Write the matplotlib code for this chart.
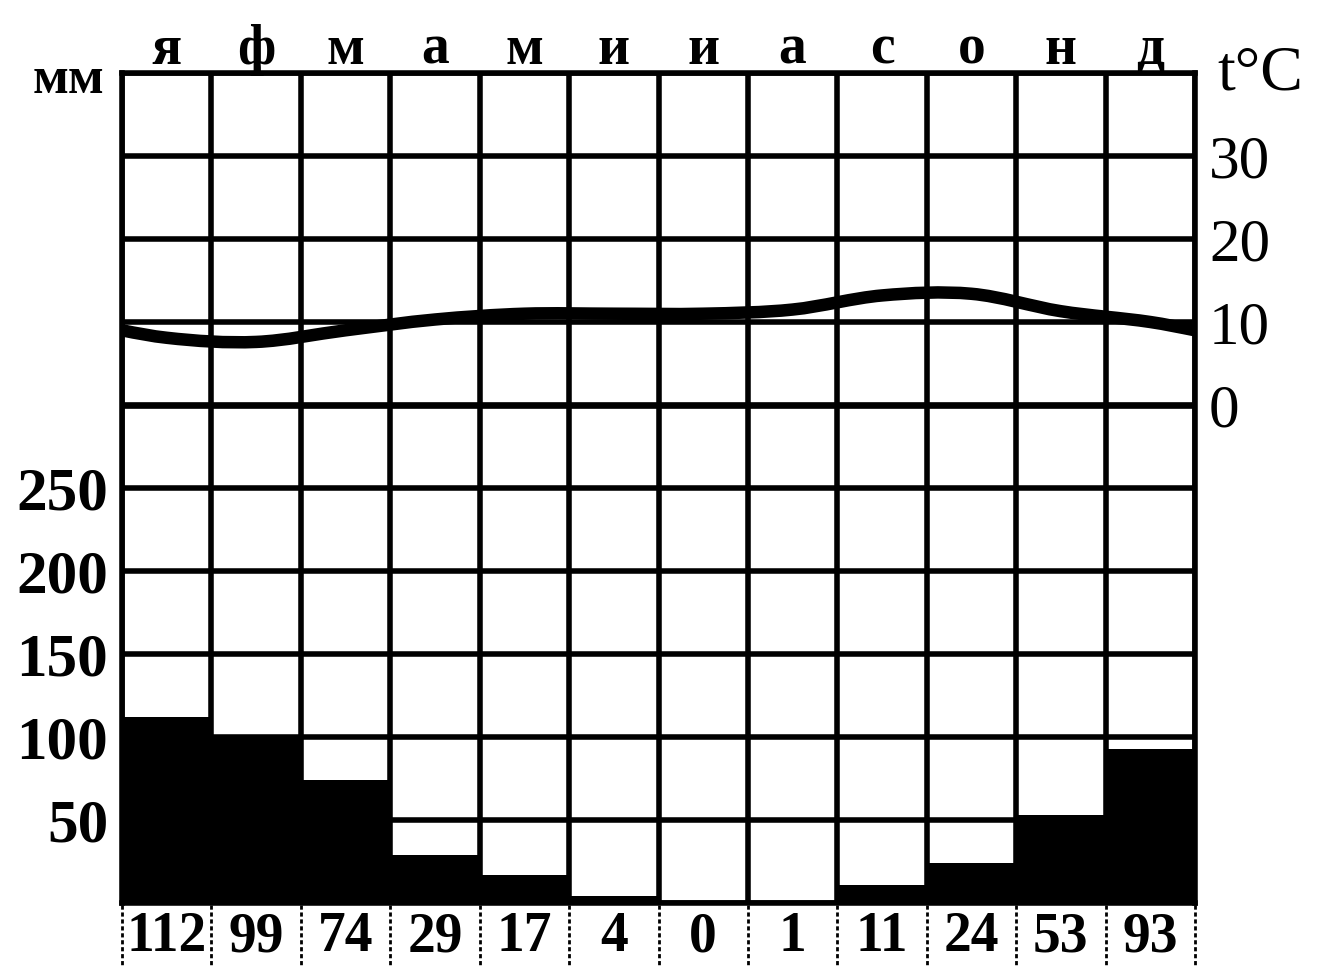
import matplotlib
matplotlib.use("Agg")
import matplotlib.pyplot as plt
import matplotlib.transforms as mtransforms
from matplotlib.path import Path
from matplotlib.patches import PathPatch

months = ["я", "ф", "м", "а", "м", "и", "и", "а", "с", "о", "н", "д"]
precip_mm = [112, 99, 74, 29, 17, 4, 0, 1, 11, 24, 53, 93]
temp_c = [8.1, 7.6, 9.0, 10.3, 11.0, 11.0, 11.0, 11.5, 13.2, 13.4, 11.3, 10.0]
precip_ticks = [50, 100, 150, 200, 250]
temp_ticks = [0, 10, 20, 30]

plt.rcParams['font.family'] = ['Liberation Serif', 'DejaVu Serif']

fig = plt.figure(figsize=(13.24, 9.69), dpi=100)
ax = fig.add_axes([122/1324, 66/969, (1195-122)/1324, (903-73)/969])
n = len(months)
ax.set_xlim(-0.5, n - 0.5)
ax.set_ylim(0, 500)

# bars
ax.bar(range(n), precip_mm, width=1.0, color='black', zorder=2)

# grid
for b in range(n + 1):
    ax.axvline(b - 0.5, color='black', lw=4.0, zorder=3)
for yv in range(0, 501, 50):
    ax.axhline(yv, color='black', lw=4.0 if yv != 300 else 4.8, zorder=3)

for s in ax.spines.values():
    s.set_linewidth(4)

ax.set_xticks(range(n))
ax.set_xticklabels([str(v) for v in precip_mm], fontsize=40, fontweight='bold')
ax.tick_params(axis='x', length=0, pad=6)
ax.set_yticks(precip_ticks)
ax.set_yticklabels([str(v) for v in precip_ticks], fontsize=44, fontweight='bold')
ax.tick_params(axis='y', length=0, pad=10)

# temperature axis
ax2 = ax.twinx()
ax2.set_ylim(-60, 40)
ax2.set_yticks(temp_ticks)
ax2.set_yticklabels([str(v) for v in temp_ticks], fontsize=44)
ax2.tick_params(axis='y', length=0, pad=10)
for s in ax2.spines.values():
    s.set_visible(False)

# periodic extension so the curve reaches both edges; smooth Bezier through monthly values
xs = [-2, -1] + list(range(n)) + [n, n + 1]
ts = [temp_c[-2], temp_c[-1]] + temp_c + [temp_c[0], temp_c[1]]
verts = [(xs[1], ts[1])]
codes = [Path.MOVETO]
for i in range(1, len(xs) - 2):
    p0 = (xs[i - 1], ts[i - 1]); p1 = (xs[i], ts[i])
    p2 = (xs[i + 1], ts[i + 1]); p3 = (xs[i + 2], ts[i + 2])
    c1 = (p1[0] + (p2[0] - p0[0]) / 6, p1[1] + (p2[1] - p0[1]) / 6)
    c2 = (p2[0] - (p3[0] - p1[0]) / 6, p2[1] - (p3[1] - p1[1]) / 6)
    verts += [c1, c2, p2]
    codes += [Path.CURVE4] * 3
ax2.add_patch(PathPatch(Path(verts, codes), facecolor='none', edgecolor='black',
                        lw=9, zorder=5, capstyle='butt'))

# month letters on top
ttop = mtransforms.blended_transform_factory(ax.transData, ax.transAxes)
for i, m in enumerate(months):
    ax.text(i, 1.0 + 9/830, m, transform=ttop, ha='center', va='baseline',
            fontsize=40, fontweight='bold')

fig.text(68/1324, 1 - 80/969, "мм", ha='center', va='center', fontsize=38, fontweight='bold')
fig.text(1260/1324, 1 - 75/969, "t°C", ha='center', va='center', fontsize=46)

# dotted separators under the axis
for b in range(n + 1):
    ax.plot([b - 0.5, b - 0.5], [-0.003, -0.075], transform=ttop, color='black',
            lw=2, ls=(0, (1.5, 1)), clip_on=False)

fig.savefig("out.png", dpi=100)
